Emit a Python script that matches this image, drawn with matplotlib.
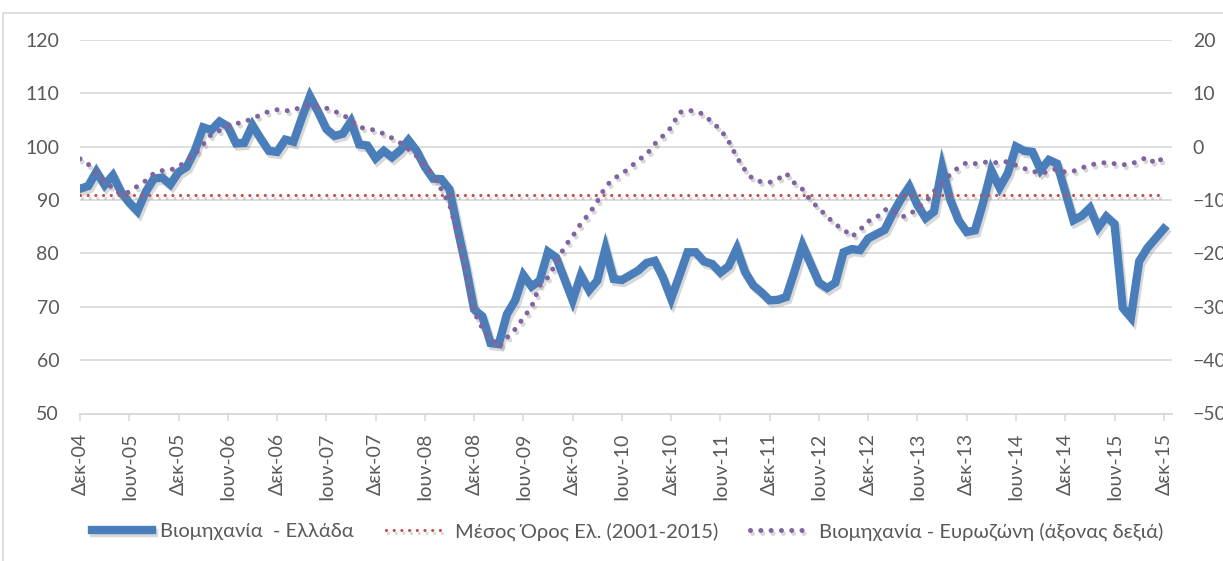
import matplotlib
matplotlib.use("Agg")
import matplotlib.pyplot as plt
import matplotlib.patheffects as pe
from matplotlib.patches import Rectangle

plt.rcParams["font.family"] = ["Lato", "Noto Sans", "DejaVu Sans"]

# monthly, Dec-2004 .. Dec-2015
greece = [
    92.1, 92.6, 95.3, 92.8, 94.6, 91.5, 89.5, 87.9, 91.5, 94.0, 94.2, 92.9,
    95.2, 96.2, 99.3, 103.6, 103.1, 104.7, 103.8, 100.6, 100.7, 104.0, 101.5, 99.2,
    99.0, 101.3, 100.9, 105.3, 109.4, 106.5, 103.3, 102.0, 102.4, 104.7, 100.4, 100.2,
    97.8, 99.2, 98.0, 99.3, 101.2, 99.2, 96.2, 94.0, 93.9, 92.0, 84.5, 77.5,
    69.5, 68.2, 63.2, 63.0, 68.6, 71.2, 75.9, 73.8, 74.9, 80.3, 79.2, 75.2,
    71.2, 75.9, 73.1, 74.9, 80.9, 75.2, 75.0, 75.9, 76.8, 78.2, 78.6, 75.5,
    71.5, 75.8, 80.2, 80.2, 78.5, 78.0, 76.4, 77.6, 80.9, 76.5, 74.0, 72.7,
    71.2, 71.3, 71.8, 76.5, 81.5, 78.0, 74.5, 73.5, 74.5, 80.2, 80.8, 80.6,
    82.8, 83.6, 84.4, 87.5, 90.2, 92.5, 89.0, 86.6, 87.8, 96.1, 90.0, 86.2,
    84.0, 84.3, 89.5, 95.5, 92.3, 95.0, 100.0, 99.2, 99.0, 95.6, 97.5, 96.8,
    91.5, 86.2, 87.0, 88.5, 84.8, 86.9, 85.5, 69.8, 68.0, 78.5, 81.0, 82.8,
    84.6,
]
eurozone = [
    -2.3, -3.3, -5.0, -6.5, -7.8, -9.0, -8.5, -7.4, -6.4, -5.0, -4.5, -4.4,
    -3.8, -2.6, -1.4, 0.4, 2.3, 3.0, 3.8, 4.3, 4.6, 5.3, 5.9, 6.6,
    6.9, 6.7, 6.8, 7.5, 7.9, 7.5, 7.2, 6.6, 6.0, 4.9, 3.6, 3.4,
    3.0, 2.4, 1.6, 0.7, -0.5, -1.8, -3.6, -5.3, -8.0, -10.8, -16.5, -24.0,
    -31.0, -34.0, -36.0, -37.6, -35.8, -34.2, -32.1, -30.0, -26.0, -24.5, -21.8, -18.8,
    -16.8, -14.4, -12.6, -10.3, -7.5, -6.0, -5.1, -3.9, -2.5, -1.5, 0.5, 2.0,
    3.6, 6.4, 6.8, 6.6, 6.0, 4.5, 3.2, 1.0, -2.0, -4.4, -6.2, -6.6,
    -6.7, -6.1, -5.0, -6.8, -8.0, -10.1, -11.6, -13.1, -14.6, -15.5, -16.9, -15.6,
    -14.0, -13.3, -11.8, -11.9, -13.2, -12.8, -11.5, -10.4, -8.4, -6.8, -5.2, -3.9,
    -3.0, -3.2, -2.9, -3.0, -3.0, -2.8, -3.5, -4.1, -4.6, -5.0, -4.7, -4.1,
    -4.8, -4.6, -4.0, -3.5, -3.1, -3.0, -3.2, -3.4, -3.3, -2.6, -2.0, -3.2,
    -2.0,
]
greece_mean = 90.9

tick_labels = [
    "Δεκ-04", "Ιουν-05", "Δεκ-05", "Ιουν-06", "Δεκ-06", "Ιουν-07", "Δεκ-07",
    "Ιουν-08", "Δεκ-08", "Ιουν-09", "Δεκ-09", "Ιουν-10", "Δεκ-10", "Ιουν-11",
    "Δεκ-11", "Ιουν-12", "Δεκ-12", "Ιουν-13", "Δεκ-13", "Ιουν-14", "Δεκ-14",
    "Ιουν-15", "Δεκ-15",
]

months = list(range(len(greece)))
grey = "#595959"

fig = plt.figure(figsize=(12.23, 5.61), dpi=100)
fig.patches.append(Rectangle((3 / 1223, -0.01), 1.0, (561 - 13) / 561 + 0.01,
                             transform=fig.transFigure, fill=False,
                             edgecolor="#d9d9d9", linewidth=1.2))

ax = fig.add_axes([80 / 1223, 1 - 413.5 / 561, 1092 / 1223, 373.7 / 561])
ax2 = ax.twinx()

shadow = [pe.SimpleLineShadow(offset=(1.5, -2.2), shadow_color="#808080", alpha=0.3),
          pe.Normal()]

l1, = ax.plot(months, greece, color="#4a7ebb", linewidth=6, solid_joinstyle="miter",
              label="Βιομηχανία  - Ελλάδα", path_effects=shadow, zorder=3)
l2, = ax.plot(months, [greece_mean] * len(months), color="#c0504d", linewidth=2.3,
              linestyle=(0, (0.01, 2.4)), dash_capstyle="round",
              label="Μέσος Όρος Ελ. (2001-2015)", path_effects=shadow, zorder=4)
l3, = ax2.plot(months, eurozone, color="#8064a2", linewidth=3.6,
               linestyle=(0, (0.01, 2.05)), dash_capstyle="round",
               label="Βιομηχανία - Ευρωζώνη (άξονας δεξιά)", path_effects=shadow)

ax.set_xlim(0, 133)
ax.set_ylim(50, 120)
ax2.set_ylim(-50, 20)
ax.set_yticks(range(50, 121, 10))
ax2.set_yticks(range(-50, 21, 10))
ax.set_xticks(range(0, 133, 6))
ax.set_xticklabels(tick_labels, rotation=90)

ax.grid(axis="y", color="#d9d9d9", linewidth=1.2)
ax.set_axisbelow(True)
for a in (ax, ax2):
    for s in ("top", "left", "right"):
        a.spines[s].set_visible(False)
    a.spines["bottom"].set_color("#d9d9d9")
    a.spines["bottom"].set_linewidth(1.2)

ax.tick_params(axis="x", colors="#d9d9d9", labelcolor=grey, labelsize=14,
               length=5, width=1.2, pad=9)
ax.tick_params(axis="y", length=0, labelcolor=grey, labelsize=14, pad=15)
ax2.tick_params(axis="y", length=0, labelcolor=grey, labelsize=14, pad=15)

fig.legend(handles=[l1, l2, l3], loc="center", bbox_to_anchor=(0.513, 0.053),
           ncol=3, frameon=False, fontsize=14.5, labelcolor=grey,
           handlelength=3.0, handletextpad=0.4, columnspacing=1.6)

fig.savefig("out.png", dpi=100)
